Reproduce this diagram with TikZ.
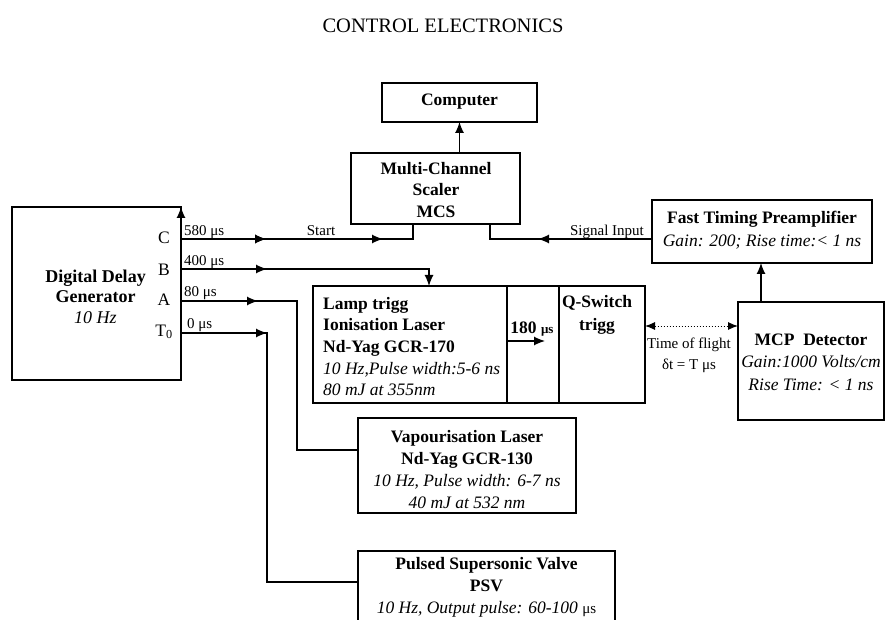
\documentclass[tikz,border=0pt]{standalone}
\usepackage{fontspec}
\setmainfont{Liberation Serif}
\usetikzlibrary{arrows.meta,decorations.markings}
\newcommand\figfont{\fontsize{17.5}{21.7}\selectfont}
\newcommand\smallfig{\fontsize{15}{18}\selectfont}
\begin{document}
\begin{tikzpicture}[x=1pt,y=-1pt,
  box/.style={draw, line width=1.2pt, inner sep=0pt, outer sep=0pt},
  conn/.style={line width=1.2pt},
  tip/.style={-{Latex[length=11pt,width=9pt]}},
  txt/.style={font=\figfont, align=center, inner sep=0pt},
  lbl/.style={font=\smallfig, inner sep=0pt},
  midarrow/.style={postaction={decorate},
    decoration={markings, mark=at position #1 with {\arrow{Latex[length=11pt,width=9pt]}}}}
]
\useasboundingbox (0,0) rectangle (886,620);
\clip (0,0) rectangle (886,620);

% title
\node[font=\fontsize{20.5}{24}\selectfont, anchor=base, inner sep=0pt] (title) at (443,33) {CONTROL ELECTRONICS};

% boxes
\node[box, minimum width=155pt, minimum height=39pt] (comp) at (459.5,102.5) {};
\node[box, minimum width=169pt, minimum height=71pt] (mcs) at (435.5,188.5) {};
\node[box, minimum width=220pt, minimum height=63pt] (pre) at (762,231.5) {};
\node[box, minimum width=146pt, minimum height=118pt] (mcp) at (811,361) {};
\node[box, minimum width=194pt, minimum height=117pt] (lamp) at (410,344.5) {};
\node[box, minimum width=52pt, minimum height=117pt] (mid) at (533,344.5) {};
\node[box, minimum width=86pt, minimum height=117pt] (qsw) at (602,344.5) {};
\node[box, minimum width=169pt, minimum height=173pt] (ddg) at (96.5,293.5) {};
\node[box, minimum width=218pt, minimum height=95pt] (vap) at (467,465.5) {};
\node[box, minimum width=257pt, minimum height=79pt] (psv) at (486.5,590.5) {};

% texts
\node[txt] (compT) at (459.5,102) {\textbf{Computer}};
\node[txt] (mcsT) at (436,190) {\textbf{Multi-Channel}\\\textbf{Scaler}\\\textbf{MCS}};
\node[txt, font=\fontsize{17.5}{23}\selectfont] (preT) at (762,230.5) {\textbf{Fast Timing Preamplifier}\\\textit{Gain: 200; Rise time:< 1 ns}};
\node[txt, font=\fontsize{17.5}{22.5}\selectfont] (mcpT) at (811,362) {\textbf{MCP\ \ Detector}\\\textit{Gain:1000 Volts/cm}\\\textit{Rise Time: < 1 ns}};
\node[txt, align=left, anchor=west] (lampT) at (323,346.5) {\textbf{Lamp trigg}\\\textbf{Ionisation Laser}\\\textbf{Nd-Yag GCR-170}\\\textit{10 Hz,Pulse width:5-6 ns}\\\textit{80 mJ at 355nm}};
\node[txt, font=\fontsize{17.5}{23}\selectfont] (qswT) at (597,314.5) {\textbf{Q-Switch}\\\textbf{trigg}};
\node[txt, anchor=base] (midT) at (532,333) {\textbf{180} {\fontsize{13}{15}\selectfont\textbf{μs}}};
\node[lbl, align=center, font=\fontsize{15}{21}\selectfont] (tofT) at (689,355) {Time of flight\\δt = T μs};
\node[txt] (vapT) at (467,469.5) {\textbf{Vapourisation Laser}\\\textbf{Nd-Yag GCR-130}\\\textit{10 Hz, Pulse width: 6-7 ns}\\\textit{40 mJ at 532 nm}};
\node[txt, font=\fontsize{17.5}{22}\selectfont] (psvT) at (486.5,587) {\textbf{Pulsed Supersonic Valve}\\\textbf{PSV}\\\textit{10 Hz, Output pulse: 60-100} {\fontsize{15}{18}\selectfont μs}};
\node[txt, font=\fontsize{18}{20.5}\selectfont] (ddgT) at (95.5,296.5) {\textbf{Digital Delay}\\\textbf{Generator}\\\textit{10 Hz}};

% channel letters
\node[txt] (lC) at (164,238) {C};
\node[txt] (lB) at (164,270) {B};
\node[txt] (lA) at (164,300) {A};
\node[txt] (lT) at (164,332) {T\textsubscript{0}};

% delay labels
\node[lbl, anchor=base west] (d580) at (184,236) {580 μs};
\node[lbl, anchor=base west] (d400) at (184,266) {400 μs};
\node[lbl, anchor=base west] (d80) at (184,297) {80 μs};
\node[lbl, anchor=base west] (d0) at (187,328) {0 μs};
\node[lbl, anchor=base] (start) at (321,236) {Start};
\node[lbl, anchor=base] (sig) at (607,236) {Signal Input};

% coordinates
\coordinate (oC) at (181,239);
\coordinate (oB) at (181,269);
\coordinate (oA) at (181,301);
\coordinate (oT) at (181,333);
\coordinate (mcsStart) at (413,224);
\coordinate (mcsSig) at (490,224);
\coordinate (preIn) at (652,239);
\coordinate (lampIn) at (429,286);
\coordinate (aCorner) at (297,450);
\coordinate (vapIn) at (358,450);
\coordinate (tCorner) at (267,582);
\coordinate (psvIn) at (358,582);
\coordinate (arrA) at (507,341);
\coordinate (arrB) at (545,341);
\coordinate (tofA) at (645,326);
\coordinate (tofB) at (738,326);

% connectors
\draw[conn, tip] (ddg.south east) -- (ddg.north east);
\draw[conn, tip] (mcs.north -| comp.south) -- (comp.south);
\draw[conn, tip] (mcp.north -| 761,0) -- (pre.south -| 761,0);
\draw[conn, midarrow=85pt, postaction={decorate, decoration={markings, mark=at position 202pt with {\arrow{Latex[length=11pt,width=9pt]}}}}] (oC) -| (mcsStart);
\draw[conn, midarrow=86pt, tip] (oB) -| (lampIn);
\draw[conn, midarrow=77pt] (oA) -| (aCorner) -- (vapIn);
\draw[conn, midarrow=86pt] (oT) -| (tCorner) -- (psvIn);
\draw[conn, midarrow=114pt] (preIn) -| (mcsSig);
\draw[conn, tip] (arrA) -- (arrB);
\draw[line width=1pt, dotted, {Latex[length=10pt,width=8pt]}-{Latex[length=10pt,width=8pt]}] (tofA) -- (tofB);
\end{tikzpicture}
\end{document}
